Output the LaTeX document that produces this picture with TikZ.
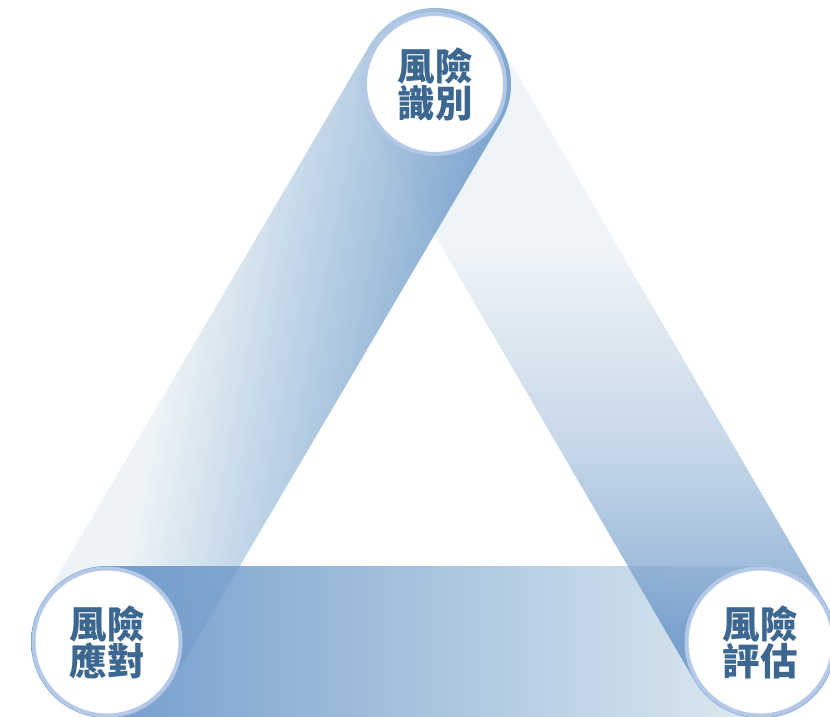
\documentclass[tikz,border=0pt]{standalone}
\usepackage{fontspec}
\newfontfamily\cjkfont{Noto Sans CJK TC}
\usetikzlibrary{calc,shadows}

\definecolor{ringblue}{HTML}{B4C8E8}
\definecolor{labelblue}{HTML}{3B6791}
\definecolor{shadowblue}{HTML}{8FAED8}
\definecolor{lpale}{HTML}{E8F0F4}
\definecolor{ldeep}{HTML}{6495C6}
\definecolor{rpale}{HTML}{EAF1F5}
\definecolor{rmid}{HTML}{B7CDE2}
\definecolor{rdeep}{HTML}{6A96C9}
\definecolor{bdeep}{HTML}{5488C1}
\definecolor{bpale}{HTML}{DCE9EF}

\pgfdeclarehorizontalshading{leftbandshade}{100bp}{color(0bp)=(lpale); color(44.6bp)=(lpale); color(56bp)=(ldeep); color(100bp)=(ldeep)}
\pgfdeclareverticalshading{rightbandshade}{100bp}{color(0bp)=(rdeep); color(30.3bp)=(rdeep); color(43.6bp)=(rmid); color(57.5bp)=(rpale); color(100bp)=(rpale)}
\pgfdeclarehorizontalshading{bottombandshade}{100bp}{color(0bp)=(bdeep); color(31.6bp)=(bdeep); color(73.2bp)=(bpale); color(100bp)=(bpale)}

\newcommand\bandw{76}
\newcommand\bandpath[3]{($(#1)+(#3-90:\bandw)$) -- ($(#2)+(#3-90:\bandw)$) arc[start angle=#3-90, delta angle=180, radius=\bandw] -- ($(#1)+(#3+90:\bandw)$) arc[start angle=#3+90, delta angle=180, radius=\bandw] -- cycle}

\begin{document}
\begin{tikzpicture}[x=1pt,y=1pt,
  riskcircle/.style={circle,fill=white,draw=ringblue,line width=4pt,inner sep=0pt,
    font=\cjkfont\bfseries\fontsize{37.5}{37}\selectfont,text=labelblue,align=center,
    drop shadow={shadow xshift=2pt,shadow yshift=-3pt,fill=shadowblue,opacity=.5}},
  bandfill/.style={fill opacity=.8}]
\useasboundingbox (0,0) rectangle (830,-716);
\coordinate (T) at (435,-84);
\coordinate (L) at (107,-642);
\coordinate (R) at (760,-642);
% right band
\begin{scope}
\clip \bandpath{T}{R}{300};
\shade[shading=rightbandshade,bandfill] (0,0) rectangle (830,-716);
\end{scope}
% left band
\begin{scope}
\clip \bandpath{T}{L}{240};
\begin{scope}[transform canvas={rotate around={-11:(300,-360)}}]
\shade[shading=leftbandshade,bandfill] (-300,200) rectangle (900,-920);
\end{scope}
\end{scope}
% bottom band
\begin{scope}
\clip \bandpath{L}{R}{0};
\shade[shading=bottombandshade,bandfill] (0,0) rectangle (830,-716);
\end{scope}
% right band once more, over the bottom band
\begin{scope}
\clip (500,-500) rectangle (830,-716);
\clip \bandpath{L}{R}{0};
\clip \bandpath{T}{R}{300};
\shade[shading=rightbandshade,bandfill] (0,0) rectangle (830,-716);
\end{scope}
\node[riskcircle,minimum size=140pt] (identify) at (T) {風險\\識別};
\node[riskcircle,minimum size=147pt] (respond) at (L) {風險\\應對};
\node[riskcircle,minimum size=147pt] (assess) at (R) {風險\\評估};
\end{tikzpicture}
\end{document}
